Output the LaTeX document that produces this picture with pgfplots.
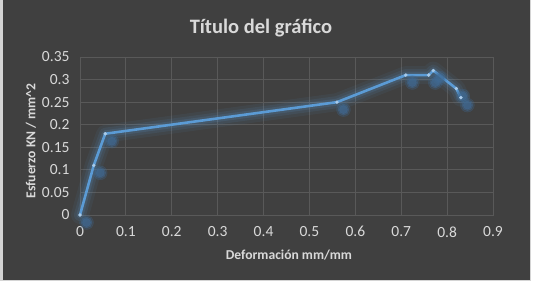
\documentclass[border=0pt]{standalone}
\usepackage{fontspec}
\setmainfont{Carlito}
\usepackage{pgfplots}
\pgfplotsset{compat=1.18}
\definecolor{bgdark}{HTML}{404040}
\definecolor{gridc}{HTML}{595959}
\definecolor{txt}{HTML}{D9D9D9}
\definecolor{line}{HTML}{5B9BD5}
\definecolor{mk}{HTML}{A9CBEA}
\definecolor{shad}{HTML}{3F6A94}
\definecolor{frameL}{HTML}{D4D4D4}
\begin{document}
\begin{tikzpicture}[x=1bp,y=1bp]
\useasboundingbox (0,0) rectangle (536,281);
\fill[frameL] (0,0) rectangle (536,281);
\fill[white] (531,0) rectangle (536,281);
\fill[bgdark] (3,1) rectangle (530,281);
\node[text=txt, font=\fontsize{20.5bp}{23bp}\selectfont\bfseries] at (261,253) {Título del gráfico};
\node[text=txt, font=\fontsize{13.6bp}{15bp}\selectfont\bfseries] at (289,26) {Deformación mm/mm};
\node[text=txt, font=\fontsize{13.6bp}{15bp}\selectfont\bfseries, rotate=90] at (31,140) {Esfuerzo KN / mm\textasciicircum 2};
\begin{axis}[
  at={(80bp,66bp)}, anchor=south west,
  scale only axis, width=413bp, height=158bp,
  xmin=0, xmax=0.9, ymin=0, ymax=0.35,
  xtick={0,0.1,...,0.9}, ytick={0,0.05,...,0.35},
  xticklabels={0,0.1,0.2,0.3,0.4,0.5,0.6,0.7,0.8,0.9},
  yticklabels={0,0.05,0.1,0.15,0.2,0.25,0.3,0.35},
  grid=major, major grid style={gridc, line width=0.8bp},
  axis line style={gridc, line width=0.8bp},
  major tick length=0pt,
  every tick label/.append style={text=txt, font=\fontsize{15.5bp}{17bp}\selectfont},
  xticklabel style={yshift=-8bp},
  yticklabel style={xshift=-7bp},
  clip=false,
]
\pgfplotstableread{
x y
0 0
0.03 0.11
0.055 0.18
0.56 0.25
0.71 0.31
0.76 0.31
0.77 0.32
0.82 0.28
0.83 0.26
}\data
% shadows of markers
\addplot[only marks, mark=*, color=shad, mark size=7bp, opacity=0.25, mark options={xshift=6.5bp, yshift=-7.5bp}] table {\data};
\addplot[only marks, mark=*, color=shad, mark size=5.5bp, opacity=0.4, mark options={xshift=6.5bp, yshift=-7.5bp}] table {\data};
\addplot[only marks, mark=*, color=shad, mark size=4bp, opacity=0.55, mark options={xshift=6.5bp, yshift=-7.5bp}] table {\data};
% glow
\addplot[line, line width=18bp, opacity=0.07, line join=round, line cap=round] table {\data};
\addplot[line, line width=12bp, opacity=0.1, line join=round, line cap=round] table {\data};
\addplot[line, line width=7bp, opacity=0.15, line join=round, line cap=round] table {\data};
% main line
\addplot[line, line width=2.6bp, line join=round, mark=*, mark size=1.6bp,
  mark options={fill=mk, draw=mk, line width=0.3bp}] table {\data};
\end{axis}
\end{tikzpicture}
\end{document}
